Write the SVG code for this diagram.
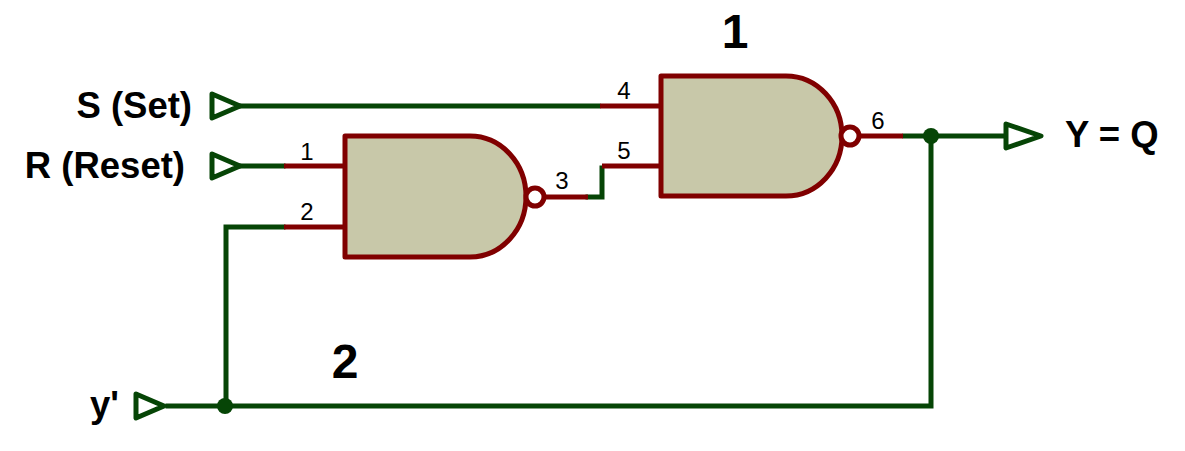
<svg xmlns="http://www.w3.org/2000/svg" width="1185" height="451" viewBox="0 0 1185 451">
<style>
.w{fill:none;stroke:#064506;stroke-width:5;stroke-linecap:square;stroke-linejoin:miter}
.p{fill:none;stroke:#800000;stroke-width:5}
.g{fill:#c8c8a9;stroke:#800000;stroke-width:5;stroke-linejoin:round}
.b{fill:#fff;stroke:#800000;stroke-width:5}
.t{fill:#fff;stroke:#064506;stroke-width:5;stroke-linejoin:round}
.d{fill:#064506}
text{font-family:"Liberation Sans",Arial,sans-serif;fill:#000}
.l{font-size:36.5px;font-weight:bold}
.h{font-size:48px;font-weight:bold}
.n{font-size:24px}
</style>
<rect width="1185" height="451" fill="#fff"/>
<g id="connectors">
<path class="w" d="M240 106H598"/>
<path class="w" d="M240 166H283"/>
<path class="w" d="M283 227H226V406"/>
<path class="w" d="M168 406H931V136"/>
<path class="w" d="M588 197H602V168"/>
<path class="w" d="M905 136H1005"/>
<circle class="d" cx="225" cy="406" r="8"/>
<circle class="d" cx="931" cy="136" r="8"/>
</g>
<g id="input-s"><path class="t" d="M212 94L240 106L212 118Z"/><text class="l" x="192" y="118" text-anchor="end">S (Set)</text></g>
<g id="input-r"><path class="t" d="M212 154L240 166L212 178Z"/><text class="l" x="185" y="178" text-anchor="end">R (Reset)</text></g>
<g id="input-y"><path class="t" d="M136 394L164 406L136 418Z"/><text class="l" x="119" y="417" text-anchor="end">y'</text></g>
<g id="output-y"><path class="t" d="M1006 124L1041 136L1006 148Z"/><text class="l" x="1065" y="147">Y = Q</text></g>
<g id="gate-2">
<path class="p" d="M284 166H345M284 227H345M546 197H588"/>
<path class="g" d="M345 136H470A56 60.5 0 0 1 470 257H345Z"/>
<circle class="b" cx="535" cy="197" r="9"/>
<text class="n" x="307" y="160" text-anchor="middle">1</text>
<text class="n" x="307" y="220" text-anchor="middle">2</text>
<text class="n" x="562" y="189" text-anchor="middle">3</text>
<text class="h" x="345" y="378" text-anchor="middle">2</text>
</g>
<g id="gate-1">
<path class="p" d="M600 106H661M602 166H661M861 136H903"/>
<path class="g" d="M661 76H786A56 60 0 0 1 786 196H661Z"/>
<circle class="b" cx="850" cy="136" r="9"/>
<text class="n" x="624" y="99" text-anchor="middle">4</text>
<text class="n" x="624" y="159" text-anchor="middle">5</text>
<text class="n" x="878" y="129" text-anchor="middle">6</text>
<text class="h" x="735" y="48" text-anchor="middle">1</text>
</g>
</svg>
